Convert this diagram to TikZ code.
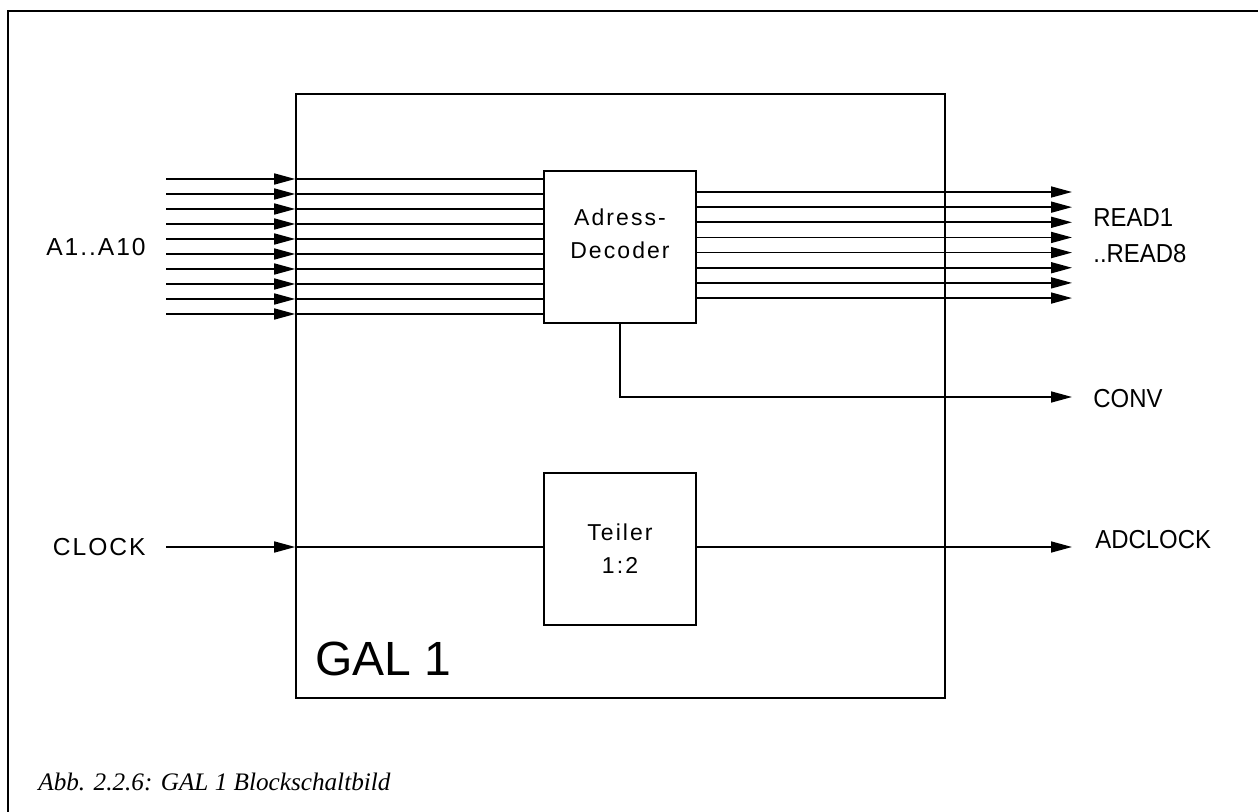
\documentclass[tikz,border=0pt]{standalone}
\usepackage{fontspec}
\setmainfont{Liberation Sans}
\newfontfamily\captionfont{Liberation Serif}
\newfontfamily\widefont[LetterSpace=9]{Liberation Sans}
\newfontfamily\spacedfont[LetterSpace=8]{Liberation Sans}
\newfontfamily\narrowfont[FakeStretch=0.92]{Liberation Sans}
\usetikzlibrary{arrows.meta, positioning}

\begin{document}
\begin{tikzpicture}[
    x=0.5pt, y=-0.5pt,
    node distance = 10pt,
    wire/.style    = {line width=0.8pt},
    arr/.style     = {-{Triangle[length=10.5pt, width=5.5pt]}, line width=0.8pt},
    frame/.style   = {line width=1.4pt},
    chip/.style    = {draw, line width=0.8pt, minimum width=324.5pt,
                      minimum height=302pt, inner sep=0pt},
    block/.style   = {draw, line width=0.8pt, minimum width=76pt,
                      minimum height=76pt, inner sep=0pt},
    blocktext/.style = {inner sep=0pt, align=center,
                      font=\widefont\fontsize{11.5}{16.5}\selectfont},
    lbl/.style     = {inner sep=0pt, align=left,
                      font=\narrowfont\fontsize{13}{18}\selectfont},
    widelbl/.style = {inner sep=0pt, font=\spacedfont\fontsize{12.3}{18}\selectfont},
]
\useasboundingbox (0,0) rectangle (1258,812);

%% ── Page frame ──────────────────────────────────────────────────────────────
\draw[frame] (8,812) -- (8,11) -- (1258,11);

%% ── GAL and its blocks ──────────────────────────────────────────────────────
\node[chip]  (gal) at (620.5,396) {};
\node[block] (dec) at (620,247)   {};
\node[blocktext] (dectext) at ([yshift=6.5pt]dec.center) {Adress-\\Decoder};
\node[block] (div) at (620,549)   {};
\node[blocktext] (divtext) at (div.center) {Teiler\\1:2};

\node[anchor=base west, inner sep=0pt, font=\fontsize{24}{28}\selectfont]
                                  (galname) at (315,675) {GAL 1};

%% ── Address inputs ──────────────────────────────────────────────────────────
\foreach \i in {0,...,9} {
    \coordinate (a\i) at (166,179+15*\i);
    \draw[arr]  (a\i) -- (a\i -| gal.west);
    \draw[wire] (a\i -| gal.west) -- (a\i -| dec.west);
}
\coordinate (amid) at (166,247.5);
\node[widelbl, left=10pt of amid] (alabel) {A1..A10};

%% ── Read outputs ────────────────────────────────────────────────────────────
\foreach \j in {0,...,7} {
    \coordinate (r\j) at (1072,192+15.15*\j);
    \draw[arr] (dec.east |- r\j) -- (r\j);
}
\coordinate (rmid) at (1072,235.5);
\node[lbl, right=10.5pt of rmid] (rlabel) {READ1\\..READ8};

%% ── Convert output ──────────────────────────────────────────────────────────
\coordinate (conv) at (1072,397);
\draw[arr] (dec.south) |- (conv);
\node[lbl, right=10.5pt of conv, yshift=-0.7pt] (convlabel) {CONV};

%% ── Clock path ──────────────────────────────────────────────────────────────
\coordinate (clk) at (166,547);
\draw[arr]  (clk) -- (clk -| gal.west);
\draw[wire] (clk -| gal.west) -- (clk -| div.west);
\node[widelbl, left=10pt of clk] (clklabel) {CLOCK};

\coordinate (adclk) at (1072,547);
\draw[arr] (div.east |- adclk) -- (adclk);
\node[lbl, right=11.5pt of adclk, yshift=3.5pt] (adclklabel) {ADCLOCK};

%% ── Caption ─────────────────────────────────────────────────────────────────
\node[anchor=base west, inner sep=0pt,
      font=\captionfont\itshape\fontsize{12.6}{14}\selectfont]
      (caption) at (38,790) {Abb. 2.2.6: GAL 1 Blockschaltbild};

\end{tikzpicture}
\end{document}
